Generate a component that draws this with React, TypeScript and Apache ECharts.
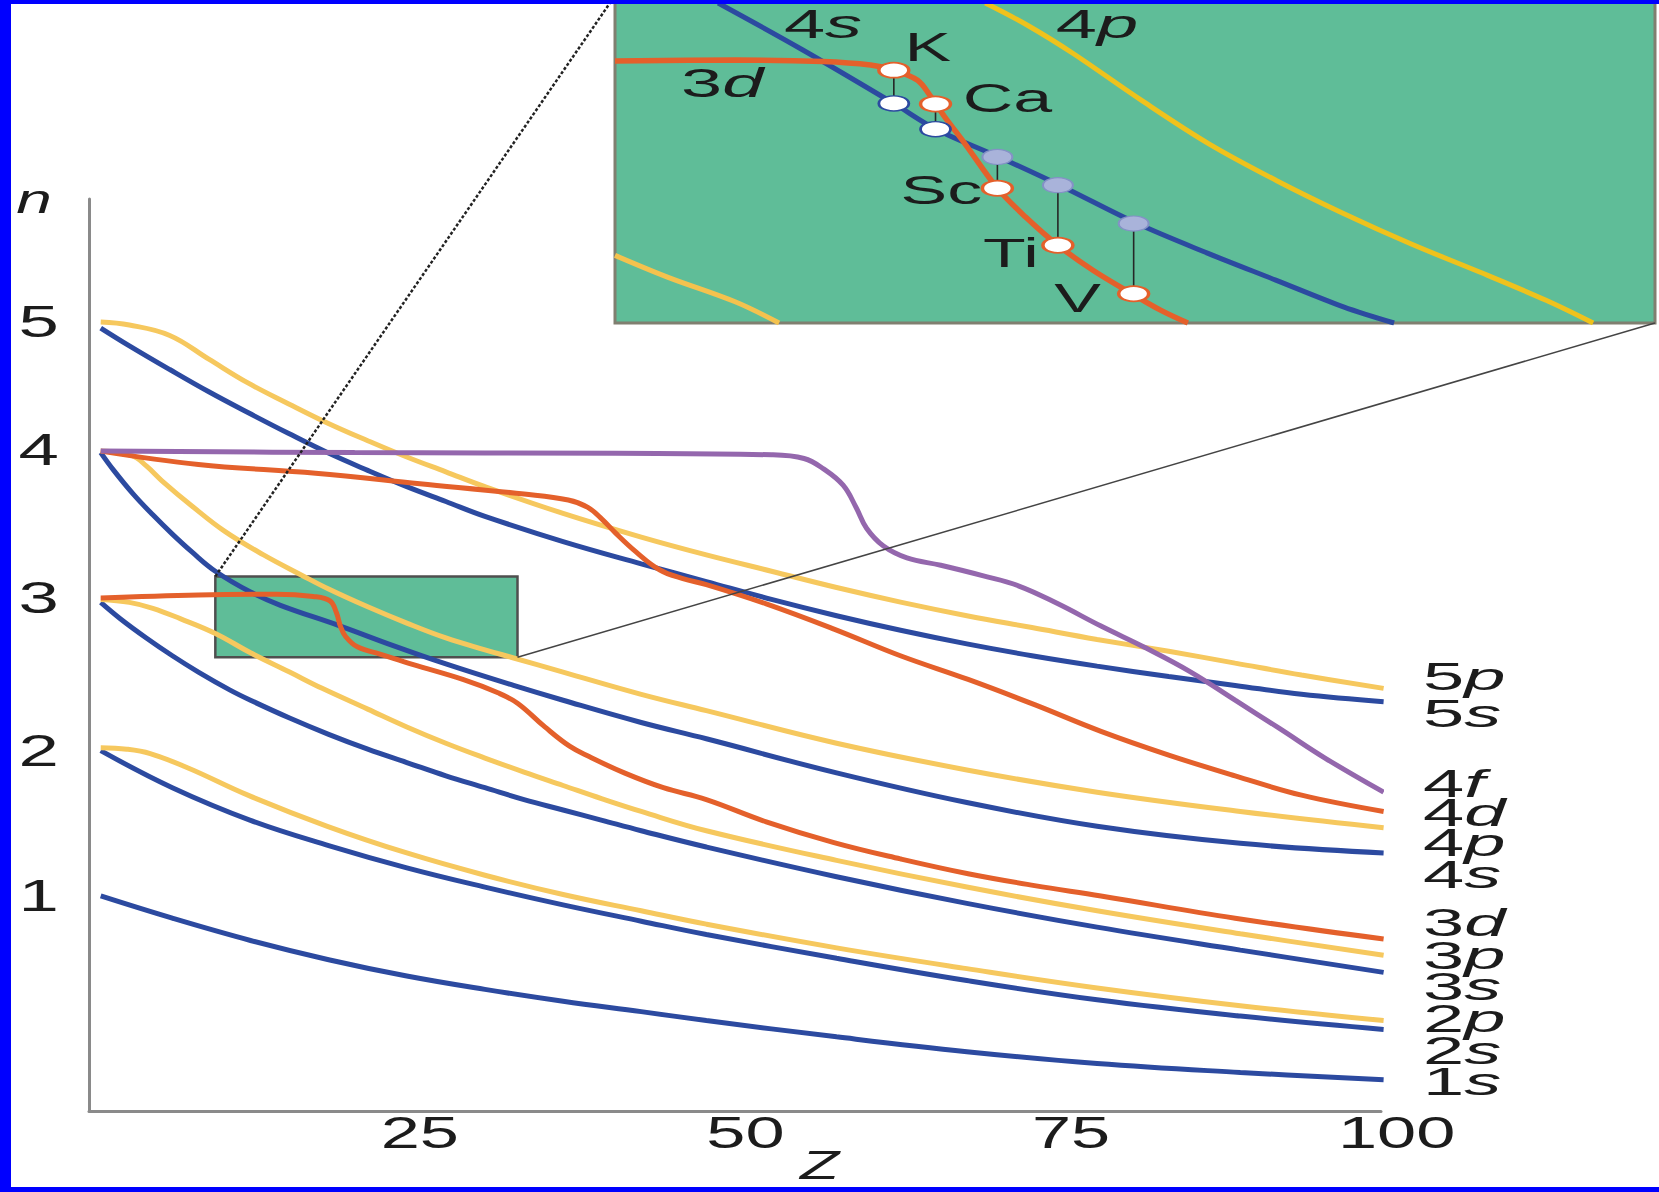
import React, { useEffect, useRef } from 'react';
import * as echarts from 'echarts';

// ---------------- data ----------------
// Main panel: x = atomic number Z, y = n
const Z_RANGE = [-0.4, 98.8];
const N_RANGE = [-0.45, 5.7];
const X_TICKS = [25, 50, 75, 100];
const Y_TICK_LABELS = ['1', '2', '3', '4', '5'];
const Y_TICK_N = [1.0, 1.98, 3.01, 4.01, 4.87];

const ORB_1S = [[0.5, 1.0], [6, 0.85], [12, 0.7], [18, 0.57], [24, 0.46], [30, 0.37], [36, 0.29], [42, 0.22], [47, 0.16], [57, 0.05], [67, -0.05], [77, -0.13], [88, -0.19], [99, -0.24]];
const ORB_2S = [[0.5, 1.98], [6, 1.73], [12, 1.51], [18, 1.34], [24, 1.19], [30, 1.06], [36, 0.94], [42, 0.83], [47, 0.74], [57, 0.58], [67, 0.43], [77, 0.3], [88, 0.19], [99, 0.1]];
const ORB_2P = [[0.5, 2.0], [2.5, 1.99], [4.3, 1.96], [7.3, 1.86], [11.8, 1.68], [17.9, 1.47], [24, 1.29], [30, 1.14], [36, 1.01], [42, 0.9], [47, 0.81], [57, 0.65], [67, 0.51], [77, 0.38], [88, 0.26], [99, 0.16]];
const ORB_3S = [[0.5, 2.98], [2, 2.87], [4, 2.74], [6, 2.62], [8, 2.51], [10.4, 2.39], [12, 2.32], [15, 2.2], [18, 2.09], [21, 1.99], [24, 1.9], [27, 1.81], [30, 1.73], [33, 1.65], [36, 1.58], [39, 1.51], [42, 1.44], [47, 1.33], [57, 1.13], [67, 0.95], [77, 0.79], [88, 0.635], [99, 0.485]];
const ORB_3P = [[0.5, 3.0], [2.7, 2.98], [4.5, 2.94], [6.6, 2.87], [9.3, 2.77], [12, 2.64], [15, 2.51], [17.5, 2.4], [21, 2.26], [24, 2.14], [27, 2.03], [30, 1.93], [33, 1.835], [36, 1.745], [39, 1.655], [42, 1.57], [47, 1.44], [57, 1.24], [67, 1.06], [77, 0.9], [88, 0.745], [99, 0.6]];
const ORB_3D = [[0.5, 3.01], [8, 3.03], [14, 3.035], [16.8, 3.02], [18.1, 2.99], [18.6, 2.91], [18.9, 2.82], [19.3, 2.75], [20.2, 2.68], [22, 2.63], [24.5, 2.56], [28.3, 2.46], [31, 2.37], [32.5, 2.3], [34.6, 2.14], [36.5, 2.01], [38, 1.94], [40.7, 1.83], [43.7, 1.73], [47, 1.65], [51.6, 1.5], [56.8, 1.36], [61.9, 1.25], [67.1, 1.15], [72.2, 1.07], [77.3, 1.0], [87.6, 0.85], [99, 0.71]];
const ORB_4S = [[0.5, 3.99], [1.5, 3.87], [3, 3.71], [4.5, 3.57], [6, 3.44], [7.5, 3.32], [9.3, 3.19], [12, 3.05], [14.3, 2.96], [18.9, 2.82], [22.9, 2.69], [27, 2.565], [32.2, 2.42], [36, 2.32], [42, 2.17], [47, 2.06], [57, 1.83], [67, 1.63], [77, 1.47], [88, 1.355], [99, 1.29]];
const ORB_4P = [[0.5, 4.0], [2.9, 3.97], [4, 3.9], [5.2, 3.8], [7.5, 3.63], [10, 3.46], [13, 3.3], [16, 3.16], [18, 3.07], [21, 2.95], [24, 2.84], [27, 2.74], [30, 2.66], [32, 2.61], [36, 2.51], [42, 2.36], [47, 2.25], [57, 2.03], [67, 1.85], [77, 1.7], [88, 1.57], [99, 1.46]];
const ORB_4D = [[0.5, 4.0], [8, 3.91], [17, 3.85], [25, 3.78], [33, 3.71], [36.4, 3.67], [37.9, 3.62], [39, 3.54], [40, 3.45], [41.6, 3.32], [43.4, 3.2], [45.2, 3.14], [47, 3.1], [51.6, 2.97], [56.8, 2.8], [61.9, 2.62], [67.1, 2.46], [72.2, 2.29], [77.3, 2.11], [82.5, 1.95], [87.6, 1.81], [92.7, 1.68], [99, 1.57]];
const ORB_4F = [[0.5, 4.0], [20, 3.99], [40, 3.985], [52, 3.975], [54.5, 3.95], [56, 3.88], [57.5, 3.77], [58.5, 3.62], [59.3, 3.48], [60.6, 3.36], [62.4, 3.28], [65, 3.23], [68.2, 3.16], [71, 3.09], [74, 2.97], [77.3, 2.82], [80.8, 2.67], [84.2, 2.51], [87.6, 2.32], [91, 2.13], [94.5, 1.93], [99, 1.7]];
const ORB_5S = [[0.5, 4.83], [2.7, 4.71], [5.8, 4.55], [8.8, 4.4], [11.8, 4.26], [14.9, 4.12], [17.9, 3.99], [21, 3.87], [24, 3.76], [27, 3.66], [30, 3.56], [36, 3.39], [42, 3.24], [47, 3.12], [52, 3.0], [57, 2.89], [62, 2.79], [67, 2.7], [72, 2.62], [77, 2.55], [82.5, 2.48], [87.6, 2.42], [92.7, 2.36], [99, 2.31]];
const ORB_5P = [[0.5, 4.87], [2.7, 4.85], [5.8, 4.78], [8.8, 4.62], [11.8, 4.46], [14.9, 4.32], [17.9, 4.19], [21, 4.07], [24, 3.96], [27, 3.86], [30, 3.76], [36, 3.58], [42, 3.42], [47, 3.3], [52, 3.19], [57, 3.08], [62, 2.98], [67, 2.89], [72, 2.81], [77, 2.73], [82.5, 2.65], [87.6, 2.57], [92.7, 2.49], [99, 2.4]];

// right-hand orbital labels and the n at which each one sits
const CURVE_LABELS = ['5p', '5s', '4f', '4d', '4p', '4s', '3d', '3p', '3s', '2p', '2s', '1s'];
const CURVE_LABEL_N = [2.48, 2.23, 1.76, 1.56, 1.36, 1.14, 0.82, 0.6, 0.385, 0.17, -0.045, -0.25];
const Z_NAME_AT = 55.7;

// region of the main panel that is magnified
const BOX_Z = [9.3, 32.5];
const BOX_N = [2.61, 3.155];

// Magnified inset (same Z, n units)
const INSET_Z = [9.3, 32.5];
const INSET_N = [2.61, 3.25];
const INSET_4S = [[11.6, 3.244], [13.49, 3.151], [15.52, 3.045], [16.46, 2.994], [17.86, 2.939], [19.22, 2.883], [20.95, 2.807], [22.53, 2.748], [24.04, 2.695], [25.55, 2.642], [26.68, 2.61]];
const INSET_3D = [[9.3, 3.129], [12.0, 3.131], [13.94, 3.128], [15.0, 3.121], [15.52, 3.111], [16.05, 3.091], [16.35, 3.058], [16.46, 3.044], [16.65, 3.019], [17.1, 2.966], [17.83, 2.877], [18.46, 2.82], [19.18, 2.764], [19.97, 2.714], [20.83, 2.668], [21.48, 2.635], [22.08, 2.61]];
const INSET_4P = [[17.56, 3.244], [18.5, 3.2], [19.52, 3.144], [21.03, 3.052], [22.53, 2.966], [24.04, 2.893], [25.55, 2.827], [27.05, 2.767], [28.56, 2.712], [30.07, 2.655], [31.12, 2.61]];
const INSET_3P = [[9.3, 2.744], [10.47, 2.701], [11.98, 2.652], [12.96, 2.61]];
const INSET_LABELS = ['4s', '4p', '3d'];
const INSET_LABEL_Z = [13.94, 20.05, 11.69];
const INSET_LABEL_N = [3.202, 3.202, 3.086];

const ELEMENTS = ['K', 'Ca', 'Sc', 'Ti', 'V'];
const ELEM_Z = [15.52, 16.45, 17.83, 19.18, 20.87];
const ELEM_3D = [3.111, 3.044, 2.877, 2.764, 2.668];
const ELEM_4S = [3.045, 2.994, 2.939, 2.883, 2.807];

// ---------------- styles ----------------
const PAGE_W = 1659;
const PAGE_H = 1192;
const FRAME = '#0000ff';
const BLUE = '#2c4aa0';
const YELLOW = '#f6c85e';
const RED = '#e4602b';
const PURPLE = '#9467ad';
const GREEN = '#5fbd98';
const INSET_YELLOW = '#efc21c';
const TEXT = '#1c1c1c';
const FONT = '"Liberation Sans", Arial, Helvetica, sans-serif';
const ORB_COLOR: Record<string, string> = { s: BLUE, p: YELLOW, d: RED, f: PURPLE };
const ELEM_LABEL_OFFSET: Record<string, number[]> = { K: [34, -23], Ca: [72, -6], Sc: [-56, 2], Ti: [-47, 8], V: [-56, 4] };

const ORBITALS: [string, number[][]][] = [
  ['1s', ORB_1S], ['2s', ORB_2S], ['3s', ORB_3S], ['4s', ORB_4S], ['5s', ORB_5S],
  ['2p', ORB_2P], ['3p', ORB_3P], ['4p', ORB_4P], ['5p', ORB_5P],
  ['3d', ORB_3D], ['4d', ORB_4D], ['4f', ORB_4F],
];

type Lbl = { at: number[]; text: string; orb?: boolean; italic?: boolean; size: number; sx: number; align: string; dx: number; dy: number };

function orbText(name: string) {
  return `{d|${name[0]}}{i|${name.slice(1)}}`;
}

function richFor(size: number) {
  return {
    d: { fontSize: size, fontFamily: FONT, fill: TEXT },
    i: { fontSize: size, fontFamily: FONT, fontStyle: 'italic', fill: TEXT },
  };
}

function textElement(l: Lbl, p: number[]) {
  const style: any = {
    text: l.orb ? orbText(l.text) : l.text,
    fill: TEXT,
    fontSize: l.size,
    fontFamily: FONT,
    fontStyle: l.italic ? 'italic' : 'normal',
    align: l.align,
    verticalAlign: 'middle',
  };
  if (l.orb) style.rich = richFor(l.size);
  return { type: 'text', x: p[0] + l.dx, y: p[1] + l.dy, scaleX: l.sx, style };
}

function buildMainLabels(): Lbl[] {
  const out: Lbl[] = [];
  Y_TICK_LABELS.forEach((t, i) => out.push({ at: [Z_RANGE[0], Y_TICK_N[i]], text: t, size: 44, sx: 1.65, align: 'right', dx: -30, dy: 0 }));
  X_TICKS.forEach((t) => out.push({ at: [t, N_RANGE[0]], text: String(t), size: 44, sx: 1.6, align: 'center', dx: 0, dy: 22 }));
  CURVE_LABELS.forEach((t, i) => out.push({ at: [Z_RANGE[1], CURVE_LABEL_N[i]], text: t, orb: true, size: 38, sx: 1.95, align: 'left', dx: 42, dy: 0 }));
  out.push({ at: [Z_RANGE[0], N_RANGE[1]], text: 'n', italic: true, size: 40, sx: 1.6, align: 'center', dx: -55, dy: 0 });
  out.push({ at: [Z_NAME_AT, N_RANGE[0]], text: 'Z', italic: true, size: 40, sx: 1.6, align: 'center', dx: 0, dy: 54 });
  return out;
}

function buildInsetLabels(): Lbl[] {
  const out: Lbl[] = [];
  INSET_LABELS.forEach((t, i) => out.push({ at: [INSET_LABEL_Z[i], INSET_LABEL_N[i]], text: t, orb: true, size: 40, sx: 1.85, align: 'center', dx: 0, dy: 0 }));
  ELEMENTS.forEach((e, i) => {
    const off = ELEM_LABEL_OFFSET[e];
    out.push({ at: [ELEM_Z[i], ELEM_3D[i]], text: e, size: 40, sx: 1.75, align: 'center', dx: off[0], dy: off[1] });
  });
  return out;
}

function buildOption() {
  const mainLabels = buildMainLabels();
  const insetLabels = buildInsetLabels();

  const orbitalSeries = ORBITALS.map(([name, data], i) => {
    const s: any = {
      type: 'line',
      name,
      xAxisIndex: 0,
      yAxisIndex: 0,
      data,
      symbol: 'none',
      showSymbol: false,
      smooth: 0.4,
      clip: false,
      silent: true,
      z: 2,
      lineStyle: { color: ORB_COLOR[name[1]], width: 5 },
    };
    if (i === 0) {
      s.markArea = {
        silent: true,
        label: { show: false },
        itemStyle: { color: GREEN, borderColor: '#4f4f4f', borderWidth: 2.5 },
        data: [[{ coord: [BOX_Z[0], BOX_N[1]] }, { coord: [BOX_Z[1], BOX_N[0]] }]],
      };
    }
    return s;
  });

  const insetLine = (data: number[][], color: string, width: number) => ({
    type: 'line',
    xAxisIndex: 1,
    yAxisIndex: 1,
    data,
    symbol: 'none',
    showSymbol: false,
    smooth: 0.35,
    clip: true,
    silent: true,
    z: 2,
    lineStyle: { color, width },
  });

  const filled = ELEMENTS.map((_, i) => ELEM_3D[i] < ELEM_4S[i]);

  return {
    animation: false,
    backgroundColor: '#ffffff',
    grid: [
      { left: 89, top: 199, width: 1292, height: 912, show: false },
      { left: 615, top: 0, width: 1040, height: 323, show: true, backgroundColor: GREEN, borderColor: '#807f70', borderWidth: 3 },
    ],
    xAxis: [
      {
        type: 'value', gridIndex: 0, min: Z_RANGE[0], max: Z_RANGE[1],
        axisLine: { show: true, onZero: false, lineStyle: { color: '#8a8a8a', width: 3 } },
        axisTick: { show: false }, axisLabel: { show: false }, splitLine: { show: false },
      },
      { type: 'value', gridIndex: 1, min: INSET_Z[0], max: INSET_Z[1], show: false, splitLine: { show: false } },
    ],
    yAxis: [
      {
        type: 'value', gridIndex: 0, min: N_RANGE[0], max: N_RANGE[1],
        axisLine: { show: true, onZero: false, lineStyle: { color: '#8a8a8a', width: 3 } },
        axisTick: { show: false }, axisLabel: { show: false }, splitLine: { show: false },
      },
      { type: 'value', gridIndex: 1, min: INSET_N[0], max: INSET_N[1], show: false, splitLine: { show: false } },
    ],
    series: [
      ...orbitalSeries,
      insetLine(INSET_3P, '#f4c24e', 5),
      insetLine(INSET_4P, INSET_YELLOW, 5),
      insetLine(INSET_4S, BLUE, 5),
      insetLine(INSET_3D, RED, 5.5),
      {
        type: 'custom',
        xAxisIndex: 1,
        yAxisIndex: 1,
        silent: true,
        z: 3,
        data: ELEMENTS.map((_, i) => [ELEM_Z[i], ELEM_4S[i], ELEM_3D[i]]),
        renderItem: (params: any, api: any) => {
          const a = api.coord([api.value(0), api.value(1)]);
          const b = api.coord([api.value(0), api.value(2)]);
          return { type: 'line', shape: { x1: a[0], y1: a[1], x2: b[0], y2: b[1] }, style: { stroke: '#262626', lineWidth: 1.6 } };
        },
      },
      {
        type: 'scatter', xAxisIndex: 1, yAxisIndex: 1, silent: true, z: 4,
        symbol: 'circle', symbolSize: [30, 15],
        data: ELEMENTS.map((_, i) => [ELEM_Z[i], ELEM_4S[i]]).filter((_, i) => !filled[i]),
        itemStyle: { color: '#ffffff', borderColor: BLUE, borderWidth: 2, opacity: 1 },
      },
      {
        type: 'scatter', xAxisIndex: 1, yAxisIndex: 1, silent: true, z: 4,
        symbol: 'circle', symbolSize: [30, 15],
        data: ELEMENTS.map((_, i) => [ELEM_Z[i], ELEM_4S[i]]).filter((_, i) => filled[i]),
        itemStyle: { color: '#a9b3da', borderColor: '#8491c6', borderWidth: 1.5, opacity: 1 },
      },
      {
        type: 'scatter', xAxisIndex: 1, yAxisIndex: 1, silent: true, z: 4,
        symbol: 'circle', symbolSize: [30, 15],
        data: ELEMENTS.map((_, i) => [ELEM_Z[i], ELEM_3D[i]]),
        itemStyle: { color: '#ffffff', borderColor: RED, borderWidth: 2.5, opacity: 1 },
      },
      {
        type: 'custom',
        xAxisIndex: 0,
        yAxisIndex: 0,
        silent: true,
        z: 6,
        data: mainLabels.map((l) => l.at),
        renderItem: (params: any, api: any) => {
          const l = mainLabels[params.dataIndex];
          return textElement(l, api.coord([api.value(0), api.value(1)]));
        },
      },
      {
        type: 'custom',
        xAxisIndex: 1,
        yAxisIndex: 1,
        silent: true,
        z: 6,
        data: insetLabels.map((l) => l.at),
        renderItem: (params: any, api: any) => {
          const l = insetLabels[params.dataIndex];
          return textElement(l, api.coord([api.value(0), api.value(1)]));
        },
      },
    ],
  };
}

export default function App() {
  const ref = useRef<HTMLDivElement>(null);
  useEffect(() => {
    const el = ref.current;
    if (!el) return;
    const chart = echarts.init(el, null, { renderer: 'svg' });
    chart.setOption(buildOption() as any);
    const tl = chart.convertToPixel({ gridIndex: 0 } as any, [BOX_Z[0], BOX_N[1]]) as number[];
    const br = chart.convertToPixel({ gridIndex: 0 } as any, [BOX_Z[1], BOX_N[0]]) as number[];
    const itl = chart.convertToPixel({ gridIndex: 1 } as any, [INSET_Z[0], INSET_N[1]]) as number[];
    const ibr = chart.convertToPixel({ gridIndex: 1 } as any, [INSET_Z[1], INSET_N[0]]) as number[];
    chart.setOption({
      graphic: [
        { type: 'line', z: 50, silent: true, shape: { x1: tl[0], y1: tl[1], x2: itl[0] - 3, y2: itl[1] }, style: { stroke: '#222222', lineWidth: 2.5, lineDash: [3, 2] } },
        { type: 'line', z: 50, silent: true, shape: { x1: br[0], y1: br[1], x2: ibr[0], y2: ibr[1] }, style: { stroke: '#444444', lineWidth: 1.5 } },
        { type: 'rect', z: 100, silent: true, shape: { x: 0, y: 0, width: 11, height: PAGE_H }, style: { fill: FRAME } },
        { type: 'rect', z: 100, silent: true, shape: { x: 0, y: 0, width: PAGE_W, height: 4 }, style: { fill: FRAME } },
        { type: 'rect', z: 100, silent: true, shape: { x: 0, y: PAGE_H - 5, width: PAGE_W, height: 5 }, style: { fill: FRAME } },
      ],
    } as any);
    return () => chart.dispose();
  }, []);
  return (
    <div
      ref={ref}
      style={{ position: 'absolute', left: 0, top: 0, width: PAGE_W, height: PAGE_H, background: '#ffffff' }}
    />
  );
}
